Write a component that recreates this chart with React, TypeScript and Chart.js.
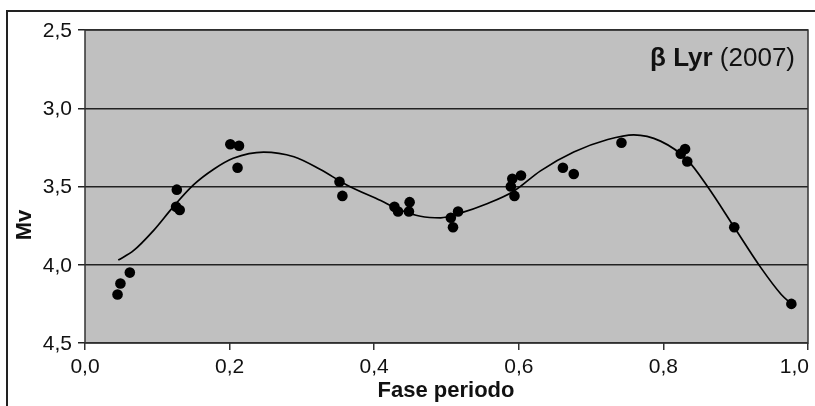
import React, { useEffect, useRef } from "react";
import { Chart, registerables } from "chart.js";

Chart.register(...registerables);

// Observed points (phase, Mv)
const phaseObs = [0.045, 0.049, 0.062, 0.127, 0.126, 0.131, 0.201, 0.213, 0.211, 0.352, 0.356, 0.428, 0.433, 0.449, 0.448, 0.506, 0.509, 0.516, 0.591, 0.589, 0.594, 0.603, 0.661, 0.676, 0.742, 0.824, 0.830, 0.833, 0.898, 0.977];
const mvObs = [4.19, 4.12, 4.05, 3.52, 3.63, 3.65, 3.23, 3.24, 3.38, 3.47, 3.56, 3.63, 3.66, 3.60, 3.66, 3.70, 3.76, 3.66, 3.45, 3.50, 3.56, 3.43, 3.38, 3.42, 3.22, 3.29, 3.26, 3.34, 3.76, 4.25];

// Fitted curve (phase, Mv)
const phaseFit = [0.046, 0.067, 0.095, 0.122, 0.150, 0.178, 0.205, 0.247, 0.289, 0.325, 0.362, 0.409, 0.436, 0.464, 0.492, 0.519, 0.556, 0.593, 0.630, 0.676, 0.723, 0.759, 0.796, 0.833, 0.861, 0.898, 0.935, 0.963, 0.977];
const mvFit = [3.97, 3.91, 3.78, 3.63, 3.49, 3.39, 3.32, 3.28, 3.31, 3.39, 3.49, 3.59, 3.65, 3.69, 3.70, 3.67, 3.61, 3.53, 3.40, 3.28, 3.20, 3.17, 3.21, 3.33, 3.50, 3.76, 4.02, 4.19, 4.25];

const xTickValues = [0, 0.2, 0.4, 0.6, 0.8, 1.0];
const yTickValues = [2.5, 3.0, 3.5, 4.0, 4.5];

const titleBold = "β Lyr";
const titleNormal = " (2007)";
const xTitle = "Fase periodo";
const yTitle = "Mv";

const FONT = "'Liberation Sans', Arial, Helvetica, sans-serif";
const fmt = (v: any) => Number(v).toFixed(1).replace(".", ",");

const decorPlugin = {
  id: "decor",
  beforeDraw(chart: any) {
    const { ctx, chartArea: a } = chart;
    ctx.save();
    ctx.fillStyle = "#ffffff";
    ctx.fillRect(0, 0, chart.width, chart.height);
    ctx.fillStyle = "#c0c0c0";
    ctx.fillRect(a.left, a.top, a.right - a.left, a.bottom - a.top);
    ctx.restore();
  },
  beforeDatasetsDraw(chart: any) {
    const { ctx, chartArea: a } = chart;
    ctx.save();
    ctx.strokeStyle = "#333333";
    ctx.lineWidth = 1.5;
    ctx.strokeRect(a.left, a.top, a.right - a.left, a.bottom - a.top);
    ctx.restore();
  },
  afterDraw(chart: any) {
    const { ctx, chartArea: a } = chart;
    ctx.save();
    // outer frame
    ctx.strokeStyle = "#222222";
    ctx.lineWidth = 2;
    ctx.beginPath();
    ctx.moveTo(7, 406);
    ctx.lineTo(7, 11);
    ctx.lineTo(815, 11);
    ctx.stroke();

    // x tick labels (last one kept inside the plot's right edge)
    const xs = chart.scales.x;
    ctx.fillStyle = "#111111";
    ctx.font = `21px ${FONT}`;
    ctx.textBaseline = "alphabetic";
    ctx.textAlign = "left";
    xTickValues.forEach((v) => {
      const label = fmt(v);
      const w = ctx.measureText(label).width;
      let x = xs.getPixelForValue(v) - w / 2;
      if (x + w > a.right + 1) x = a.right + 1 - w;
      ctx.fillText(label, x, 373);
    });

    // annotation title
    ctx.textBaseline = "alphabetic";
    ctx.font = `bold 26px ${FONT}`;
    const wb = ctx.measureText(titleBold).width;
    ctx.font = `26px ${FONT}`;
    const wn = ctx.measureText(titleNormal).width;
    const right = 795;
    const startX = right - wb - wn;
    ctx.font = `bold 26px ${FONT}`;
    ctx.fillText(titleBold, startX, 66);
    ctx.font = `26px ${FONT}`;
    ctx.fillText(titleNormal, startX + wb, 66);

    // axis titles
    ctx.font = `bold 22px ${FONT}`;
    ctx.textAlign = "center";
    ctx.fillText(xTitle, 446, 397);
    ctx.translate(31, 225);
    ctx.rotate(-Math.PI / 2);
    ctx.fillText(yTitle, 0, 0);
    ctx.restore();
  },
};

export default function App() {
  const ref = useRef<HTMLCanvasElement | null>(null);

  useEffect(() => {
    if (!ref.current) return;
    const obs = phaseObs.map((x, i) => ({ x, y: mvObs[i] }));
    const fit = phaseFit.map((x, i) => ({ x, y: mvFit[i] }));

    const chart = new Chart(ref.current, {
      type: "scatter",
      data: {
        datasets: [
          {
            label: "fit",
            data: fit,
            showLine: true,
            borderColor: "#000000",
            borderWidth: 1.7,
            pointRadius: 0,
            cubicInterpolationMode: "monotone",
            order: 2,
          } as any,
          {
            label: "obs",
            data: obs,
            backgroundColor: "#000000",
            borderColor: "#000000",
            pointRadius: 5.3,
            borderWidth: 0,
            order: 1,
          },
        ],
      },
      options: {
        animation: false,
        responsive: false,
        devicePixelRatio: 1,
        layout: { padding: { left: 0, top: 30, right: 7, bottom: 0 } },
        plugins: {
          legend: { display: false },
          tooltip: { enabled: false },
        },
        scales: {
          x: {
            type: "linear",
            min: 0,
            max: 1,
            afterBuildTicks: (s: any) => {
              s.ticks = xTickValues.map((v) => ({ value: v }));
            },
            afterFit: (s: any) => {
              s.height = 406 - 343;
              s.paddingLeft = 0;
              s.paddingRight = 0;
            },
            ticks: {
              display: false,
              autoSkip: false,
            },
            grid: {
              drawOnChartArea: false,
              drawTicks: true,
              tickLength: 7,
              color: "#333333",
              lineWidth: 1.5,
            },
            border: { display: false },
          },
          y: {
            type: "linear",
            min: 2.5,
            max: 4.5,
            reverse: true,
            afterBuildTicks: (s: any) => {
              s.ticks = yTickValues.map((v) => ({ value: v }));
            },
            afterFit: (s: any) => {
              s.width = 85;
              s.paddingTop = 0;
              s.paddingBottom = 0;
            },
            ticks: {
              callback: fmt,
              color: "#111111",
              font: { family: FONT, size: 21 },
              padding: 6,
              labelOffset: 1,
              autoSkip: false,
            },
            grid: {
              color: "#222222",
              lineWidth: 1.5,
              tickLength: 7,
            },
            border: { display: false },
          },
        },
      },
      plugins: [decorPlugin],
    });
    return () => chart.destroy();
  }, []);

  return (
    <div style={{ position: "fixed", left: 0, top: 0, width: 815, height: 406, background: "#fff" }}>
      <canvas ref={ref} width={815} height={406} style={{ display: "block", width: 815, height: 406 }} />
    </div>
  );
}
